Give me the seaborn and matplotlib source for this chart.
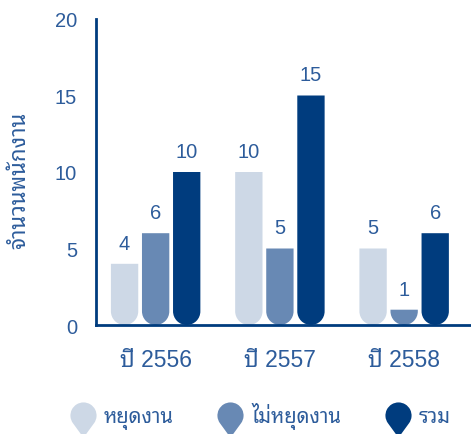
import numpy as np
import pandas as pd
import matplotlib
matplotlib.use("Agg")
import matplotlib.pyplot as plt
import seaborn as sns
from matplotlib.path import Path
from matplotlib.patches import PathPatch
from matplotlib.lines import Line2D

# data
years = ['ปี 2556', 'ปี 2557', 'ปี 2558']
groups = ['หยุดงาน', 'ไม่หยุดงาน', 'รวม']
stopped = [4, 10, 5]
not_stopped = [6, 5, 1]
total = [10, 15, 6]
y_ticks = [0, 5, 10, 15, 20]
y_label = 'จำนวนพนักงาน'

colors = ['#cdd8e6', '#6889b4', '#003c7e']
text_color = '#2d5c9b'

df = pd.DataFrame({
    'year': years * 3,
    'group': np.repeat(groups, len(years)),
    'value': stopped + not_stopped + total,
})

sns.set_style('white')
plt.rcParams['font.family'] = ['Liberation Sans', 'Noto Sans Thai Looped']

fig = plt.figure(figsize=(4.71, 4.35), dpi=100)
ax = fig.add_axes([96 / 471, 1 - 326 / 435, 374 / 471, 306 / 435])

sns.barplot(data=df, x='year', y='value', hue='group', hue_order=groups,
            palette=colors, saturation=1, width=0.75, gap=0.12,
            errorbar=None, legend=False, ax=ax)

ax.set_xlim(-0.48, 2.53)
ax.set_ylim(0, 20)
ax.set_yticks(y_ticks)

# value labels above bars
for cont in ax.containers:
    ax.bar_label(cont, padding=8, fontsize=14.5, color=text_color)

# swap the square bars for ones with a round bottom
p0 = ax.transData.transform((0, 0))
p1 = ax.transData.transform((1, 1))
sx, sy = p1[0] - p0[0], p1[1] - p0[1]
arc = Path.arc(180, 360)
for bar in list(ax.patches):
    x0, w, h = bar.get_x(), bar.get_width(), bar.get_height()
    rx = w / 2
    ry = rx * sx / sy
    top = max(h, ry)
    av = arc.vertices.copy()
    av[:, 0] = x0 + rx + rx * av[:, 0]
    av[:, 1] = ry + ry * av[:, 1]
    verts = np.vstack([[(x0, top)], av, [(x0 + w, top), (x0, top)]])
    codes = np.concatenate([[Path.MOVETO], [Path.LINETO], arc.codes[1:],
                            [Path.LINETO, Path.CLOSEPOLY]])
    fc = bar.get_facecolor()
    bar.remove()
    ax.add_patch(PathPatch(Path(verts, codes), facecolor=fc, edgecolor='none'))

# axes styling
sns.despine(ax=ax)
for s in ['left', 'bottom']:
    ax.spines[s].set_color('#003c7e')
    ax.spines[s].set_linewidth(2)
ax.tick_params(axis='both', length=0, colors=text_color)
ax.tick_params(axis='y', labelsize=14.5, pad=13.7)
ax.tick_params(axis='x', labelsize=16.5, pad=16.5)
ax.set_xlabel('')
ax.set_ylabel(y_label, fontsize=16, color=text_color)
ax.yaxis.set_label_coords(-0.175, 0.477)

# pin shaped legend markers
d = 1.7
ang = np.degrees(np.arccos(1 / d))
pin_arc = Path.arc(-90 + ang, 270 - ang)
pin_verts = np.vstack([[(0, -d)], pin_arc.vertices, [(0, -d)]])
pin_codes = np.concatenate([[Path.MOVETO], [Path.LINETO], pin_arc.codes[1:],
                            [Path.CLOSEPOLY]])
pin = Path(pin_verts, pin_codes)

handles = [Line2D([], [], marker=pin, markersize=32, linestyle='none',
                  color=c, markeredgewidth=0) for c in colors]
fig.legend(handles, groups, loc='center', bbox_to_anchor=(0.553, 0.043),
           ncol=3, frameon=False, fontsize=14.5, handlelength=1.3,
           handletextpad=0.4, columnspacing=2.15, labelcolor=text_color)

fig.savefig('out.png', dpi=100)
